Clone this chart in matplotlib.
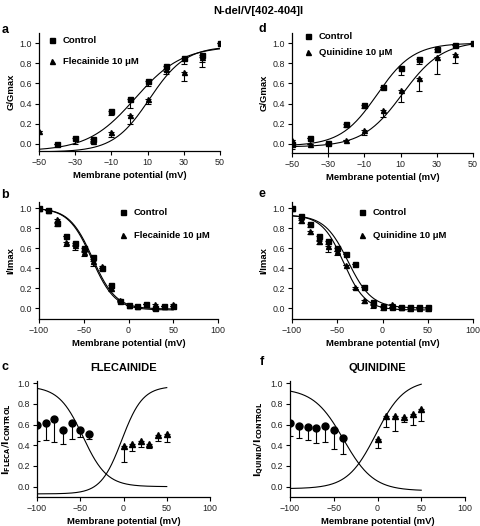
import matplotlib
matplotlib.use('Agg')
import matplotlib.pyplot as plt
import numpy as np

plt.rcParams['font.family'] = ['Liberation Sans', 'DejaVu Sans']

# ---- panel a : activation, flecainide ----
a_ctrl_v = [-40, -30, -20, -10, 0, 10, 20, 30, 40, 50]
a_ctrl = [0.0, 0.055, 0.05, 0.33, 0.45, 0.62, 0.77, 0.85, 0.88, 1.0]
a_ctrl_err = [0.0, 0.055, 0.03, 0.04, 0.095, 0.05, 0.05, 0.06, 0.12, 0.0]
a_drug_v = [-50, -20, -10, 0, 10, 20, 30, 40]
a_drug = [0.13, 0.03, 0.12, 0.29, 0.45, 0.74, 0.71, 0.86]
a_drug_err = [0.0, 0.02, 0.05, 0.09, 0.05, 0.05, 0.09, 0.05]
a_fit_ctrl = (-0.07, 0.97, 3, 13)      # bottom, top, V1/2, k
a_fit_drug = (-0.08, 0.97, 11, 10)

# ---- panel d : activation, quinidine ----
d_ctrl_v = [-50, -40, -30, -20, -10, 0, 10, 20, 30, 40, 50]
d_ctrl = [0.0, 0.06, 0.01, 0.2, 0.39, 0.56, 0.75, 0.84, 0.94, 0.98, 1.0]
d_ctrl_err = [0.05, 0.0, 0.11, 0.03, 0.03, 0.0, 0.07, 0.05, 0.03, 0.0, 0.0]
d_drug_v = [-50, -40, -20, -10, 0, 10, 20, 30, 40]
d_drug = [0.04, 0.0, 0.04, 0.14, 0.34, 0.53, 0.65, 0.86, 0.89]
d_drug_err = [0.0, 0.0, 0.0, 0.05, 0.07, 0.11, 0.13, 0.17, 0.09]
d_fit_ctrl = (-0.02, 1.0, -3, 10)
d_fit_drug = (-0.03, 1.02, 11, 11)

# ---- panel b : inactivation, flecainide ----
b_v = [-100, -90, -80, -70, -60, -50, -40, -30, -20, -10, 0, 10, 20, 30, 40, 50]
b_ctrl = [1.0, 0.98, 0.85, 0.72, 0.65, 0.6, 0.51, 0.4, 0.23, 0.07, 0.03, 0.02, 0.04, 0.0, 0.02, 0.02]
b_ctrl_err = [0, 0, 0.03, 0, 0.03, 0.03, 0.02, 0.02, 0.03, 0, 0, 0, 0, 0.02, 0, 0]
b_drug = [1.0, 0.98, 0.89, 0.66, 0.63, 0.56, 0.47, 0.42, 0.2, 0.08, 0.03, 0.02, 0.04, 0.04, 0.02, 0.04]
b_drug_err = [0, 0, 0.03, 0.04, 0.05, 0.04, 0.05, 0.02, 0.03, 0.02, 0, 0, 0, 0.04, 0, 0.02]
b_fit_ctrl = (-0.01, 1.0, -40, 13)
b_fit_drug = (-0.02, 1.0, -41, 13)

# ---- panel e : inactivation, quinidine ----
e_v = [-100, -90, -80, -70, -60, -50, -40, -30, -20, -10, 0, 10, 20, 30, 40, 50]
e_ctrl = [1.0, 0.92, 0.84, 0.72, 0.67, 0.6, 0.54, 0.44, 0.21, 0.06, 0.02, 0.01, 0.01, 0.01, 0.01, 0.01]
e_ctrl_err = [0, 0.02, 0.03, 0.04, 0.03, 0.03, 0, 0, 0, 0.03, 0, 0, 0, 0, 0, 0]
e_drug = [1.0, 0.88, 0.77, 0.67, 0.62, 0.57, 0.43, 0.21, 0.08, 0.04, 0.01, 0.04, 0.01, 0.0, 0.0, 0.0]
e_drug_err = [0, 0.03, 0.03, 0.03, 0.06, 0.04, 0, 0.02, 0.03, 0.04, 0.03, 0, 0.02, 0.03, 0, 0.03]
e_fit_ctrl = (0.0, 0.93, -38, 13)
e_fit_drug = (-0.02, 0.93, -43, 12)

# ---- panels c / f : ratio drug / control ----
inact_v = [-100, -90, -80, -70, -60, -50, -40]
act_v = [0, 10, 20, 30, 40, 50]
c_inact = [0.60, 0.61, 0.65, 0.55, 0.61, 0.55, 0.51]
c_inact_err = [0.16, 0.16, 0.22, 0.14, 0.15, 0.07, 0.05]
c_act = [0.39, 0.41, 0.44, 0.41, 0.50, 0.51]
c_act_err = [0.15, 0.07, 0.06, 0.04, 0.06, 0.08]
c_fit_inact = (0.0, 0.97, -47, 13.9)
c_fit_act = (-0.07, 0.97, -2, 12.1)

f_inact = [0.61, 0.59, 0.58, 0.57, 0.59, 0.55, 0.47]
f_inact_err = [0.12, 0.12, 0.13, 0.15, 0.16, 0.19, 0.15]
f_act = [0.46, 0.68, 0.68, 0.67, 0.70, 0.75]
f_act_err = [0.09, 0.10, 0.14, 0.05, 0.10, 0.12]
f_fit_inact = (-0.04, 0.95, -38.8, 17.2)
f_fit_act = (-0.02, 1.03, -1.9, 16.2)


def act_curve(v, p):
    b, t, v12, k = p
    return b + (t - b) / (1 + np.exp((v12 - v) / k))


def inact_curve(v, p):
    b, t, v12, k = p
    return b + (t - b) / (1 + np.exp((v - v12) / k))


W, H = 480, 526
fig = plt.figure(figsize=(4.8, 5.26), dpi=100)


def add_ax(l, r, t, b):
    return fig.add_axes([l / W, 1 - b / H, (r - l) / W, (b - t) / H])


def style(ax, xlim, ylim, xticks, ylabel):
    ax.set_xlim(*xlim)
    ax.set_ylim(*ylim)
    ax.set_xticks(xticks)
    ax.set_yticks([0, 0.2, 0.4, 0.6, 0.8, 1.0])
    ax.set_yticklabels(['0.0', '0.2', '0.4', '0.6', '0.8', '1.0'])
    for s in ['top', 'right']:
        ax.spines[s].set_visible(False)
    for s in ['left', 'bottom']:
        ax.spines[s].set_linewidth(0.9)
    ax.tick_params(direction='out', length=3, width=0.8, labelsize=6.4, pad=2,
                   labelcolor='#222222')
    ax.set_xlabel('Membrane potential (mV)', fontsize=6.8, fontweight='bold', labelpad=3)
    ax.set_ylabel(ylabel, fontsize=6.8, fontweight='bold', labelpad=3)


def points(ax, x, y, err, marker, ms):
    err = np.array(err)
    ax.errorbar(x, y, yerr=[err, np.zeros_like(err)], fmt='none', ecolor='black',
                elinewidth=0.8, capsize=2.2, capthick=0.8)
    h, = ax.plot(x, y, marker, color='black', ms=ms, ls='none')
    return h


def legend(ax, hs, labels, x, y, spacing):
    ax.legend(hs, labels, loc='upper left',
              bbox_to_anchor=(x / W, 1 - y / H), bbox_transform=fig.transFigure,
              frameon=False, handlelength=1, handletextpad=0.7, labelspacing=spacing,
              borderpad=0, borderaxespad=0, prop={'size': 6.8, 'weight': 'bold'})


vv = np.linspace(-50, 50, 200)
vw = np.linspace(-100, 50, 300)

# a
ax = add_ax(39, 220, 33, 151)
ax.plot(vv, act_curve(vv, a_fit_ctrl), color='black', lw=0.8)
ax.plot(vv, act_curve(vv, a_fit_drug), color='black', lw=0.8)
h1 = points(ax, a_ctrl_v, a_ctrl, a_ctrl_err, 's', 3.6)
h2 = points(ax, a_drug_v, a_drug, a_drug_err, '^', 3.6)
style(ax, (-50, 50), (-0.07, 1.1), [-50, -30, -10, 10, 30, 50], 'G/Gmax')
legend(ax, [h1, h2], ['Control', 'Flecainide 10 μM'], 47, 36, 1.3)

# d
ax = add_ax(292, 473, 33, 153)
ax.plot(vv, act_curve(vv, d_fit_ctrl), color='black', lw=0.8)
ax.plot(vv, act_curve(vv, d_fit_drug), color='black', lw=0.8)
h1 = points(ax, d_ctrl_v, d_ctrl, d_ctrl_err, 's', 3.6)
h2 = points(ax, d_drug_v, d_drug, d_drug_err, '^', 3.6)
style(ax, (-50, 50), (-0.09, 1.1), [-50, -30, -10, 10, 30, 50], 'G/Gmax')
legend(ax, [h1, h2], ['Control', 'Quinidine 10 μM'], 303, 32, 0.75)

# b
ax = add_ax(39, 218, 202, 319)
ax.plot(vw, inact_curve(vw, b_fit_ctrl), color='black', lw=0.8)
ax.plot(vw, inact_curve(vw, b_fit_drug), color='black', lw=0.8)
h1 = points(ax, b_v, b_ctrl, b_ctrl_err, 's', 3.6)
h2 = points(ax, b_v, b_drug, b_drug_err, '^', 3.6)
style(ax, (-100, 100), (-0.11, 1.06), [-100, -50, 0, 50, 100], 'I/Imax')
legend(ax, [h1, h2], ['Control', 'Flecainide 10 μM'], 118, 208, 1.5)

# e
ax = add_ax(292, 473, 202, 319)
ax.plot(vw, inact_curve(vw, e_fit_ctrl), color='black', lw=0.8)
ax.plot(vw, inact_curve(vw, e_fit_drug), color='black', lw=0.8)
h1 = points(ax, e_v, e_ctrl, e_ctrl_err, 's', 3.6)
h2 = points(ax, e_v, e_drug, e_drug_err, '^', 3.6)
style(ax, (-100, 100), (-0.11, 1.06), [-100, -50, 0, 50, 100], 'I/Imax')
legend(ax, [h1, h2], ['Control', 'Quinidine 10 μM'], 357, 208, 1.5)

# c
ax = add_ax(37, 210, 381, 497)
ax.plot(vw, inact_curve(vw, c_fit_inact), color='black', lw=0.8)
ax.plot(vw, act_curve(vw, c_fit_act), color='black', lw=0.8)
points(ax, inact_v, c_inact, c_inact_err, 'o', 5)
points(ax, act_v, c_act, c_act_err, '^', 4.2)
style(ax, (-100, 100), (-0.1, 1.02), [-100, -50, 0, 50, 100],
      r'$\mathbf{I_{FLECA}/I_{CONTROL}}$')
ax.set_title('FLECAINIDE', fontsize=8, fontweight='bold', pad=7)

# f
ax = add_ax(290, 465, 381, 497)
ax.plot(vw, inact_curve(vw, f_fit_inact), color='black', lw=0.8)
ax.plot(vw, act_curve(vw, f_fit_act), color='black', lw=0.8)
points(ax, inact_v, f_inact, f_inact_err, 'o', 5)
points(ax, act_v, f_act, f_act_err, '^', 4.2)
style(ax, (-100, 100), (-0.1, 1.02), [-100, -50, 0, 50, 100],
      r'$\mathbf{I_{QUINID}/I_{CONTROL}}$')
ax.set_title('QUINIDINE', fontsize=8, fontweight='bold', pad=7)

# titles and panel letters
fig.text(258 / W, 1 - 11 / H, 'N-del/V[402-404]I', ha='center', va='center',
         fontsize=8, fontweight='bold')
for lab, x, y in [('a', 5, 30), ('d', 262, 29), ('b', 5, 195),
                  ('e', 262, 194), ('c', 5, 367), ('f', 262, 362)]:
    fig.text(x / W, 1 - y / H, lab, ha='center', va='center',
             fontsize=9, fontweight='bold')

fig.savefig('out.png', dpi=100)
